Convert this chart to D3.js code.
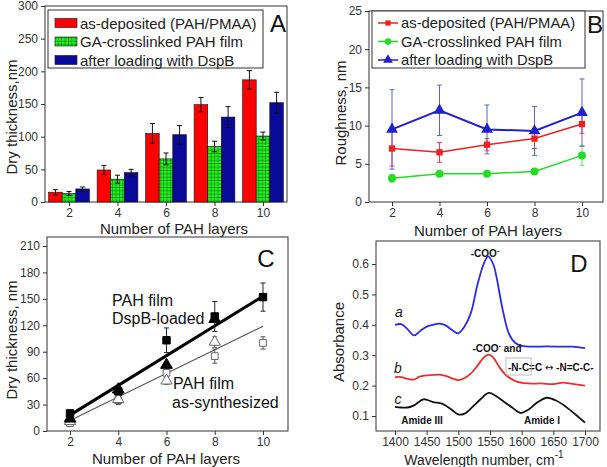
<!DOCTYPE html>
<html><head><meta charset="utf-8">
<script src="https://cdn.jsdelivr.net/npm/d3@7"></script>
<style>
body{margin:0;background:#fff}
svg{display:block;font-family:"Liberation Sans",Arial,sans-serif}
.tick text{font-size:12px;fill:#333}
.tick line{stroke:#333}
.ttl{font-size:15px;fill:#222}
</style></head><body>
<svg width="607" height="467"></svg>
<script>
var layers = [2,4,6,8,10];

// A: dry thickness (nm)
var thickDeposited = [15,49,105,149,187],  thickDepositedErr = [4,7,15,11,14];
var thickCrosslinked = [13,35,66,85,101],  thickCrosslinkedErr = [3,6,9,8,6];
var thickLoaded = [20,45,103,130,152],     thickLoadedErr = [3,5,14,16,16];
var seriesNames = ['as-deposited (PAH/PMAA)','GA-crosslinked PAH film','after loading with DspB'];

// B: roughness (nm)
var roughDeposited = [7.0,6.5,7.5,8.3,10.2],  roughDepositedErr = [2.3,1.3,0.8,1.3,1.2];
var roughCrosslinked = [3.1,3.7,3.7,4.0,6.1], roughCrosslinkedErr = [0.5,0.3,0.3,0.3,1.3];
var roughLoaded = [9.5,12.0,9.5,9.3,11.7],    roughLoadedErr = [5.2,3.3,3.2,3.2,4.4];

// C: thickness vs layers with fits
var loadedSq = [20,45,103,130,152],  loadedSqErr = [3,3,14,17,16];
var loadedTri = [14,47,75,127];
var synthSq = [9,35,66,85,100],      synthSqErr = [3,5,9,8,7];
var synthTri = [11,36,57,101],       synthTriErr = [2,4,4,6];
var fitLoaded = [18,153], fitSynth = [12,119];

// D: FTIR spectra
var waveA = [1400,1410,1420,1430,1440,1450,1460,1470,1480,1490,1500,1510,1520,1530,1540,1547,1555,1560,1570,1580,1590,1600,1620,1640,1660,1680,1700];
var absA  = [0.400,0.402,0.385,0.365,0.380,0.394,0.400,0.404,0.398,0.383,0.372,0.395,0.440,0.530,0.600,0.625,0.600,0.560,0.450,0.370,0.340,0.331,0.328,0.329,0.328,0.328,0.323];
var waveB = [1400,1410,1420,1430,1440,1460,1470,1480,1490,1500,1510,1520,1530,1540,1548,1555,1565,1575,1590,1610,1630,1650,1665,1680,1700];
var absB  = [0.228,0.228,0.222,0.220,0.230,0.235,0.236,0.232,0.224,0.218,0.225,0.240,0.265,0.292,0.302,0.293,0.260,0.235,0.215,0.207,0.207,0.205,0.210,0.206,0.200];
var waveC = [1400,1410,1420,1430,1445,1460,1475,1490,1500,1510,1520,1535,1548,1560,1570,1585,1598,1610,1625,1640,1655,1670,1685,1700];
var absC  = [0.130,0.128,0.128,0.135,0.155,0.146,0.140,0.120,0.105,0.108,0.125,0.155,0.176,0.165,0.150,0.128,0.110,0.120,0.145,0.160,0.150,0.130,0.105,0.078];
var waveTicks = [1400,1450,1500,1550,1600,1650,1700];

var svg = d3.select('svg');

function frame(box, x, y, xt, yt, yfmt){
    var g = svg.append('g');
    g.append('g').attr('transform','translate(0,'+box.b+')')
        .call(d3.axisBottom(x).tickValues(xt).tickSize(4).tickSizeOuter(0).tickPadding(2).tickFormat(d3.format('d')))
        .select('.domain').remove();
    g.append('g').attr('transform','translate('+box.l+',0)')
        .call(d3.axisLeft(y).tickValues(yt).tickSize(4).tickSizeOuter(0).tickPadding(3).tickFormat(yfmt || d3.format('d')))
        .select('.domain').remove();
    g.append('rect').attr('x',box.l).attr('y',box.t)
        .attr('width',box.r-box.l).attr('height',box.b-box.t)
        .attr('fill','none').attr('stroke','#333').attr('stroke-width',1);
    return g;
}

function ytitle(txt, cx, cy){
    svg.append('text').attr('class','ttl')
        .attr('transform','translate('+cx+','+cy+') rotate(-90)')
        .attr('text-anchor','middle').attr('dominant-baseline','central').text(txt);
}
function xtitle(txt, cx, cy){
    return svg.append('text').attr('class','ttl').attr('x',cx).attr('y',cy)
        .attr('text-anchor','middle').attr('dominant-baseline','central').text(txt);
}
function letter(txt, cx, cy){
    svg.append('text').attr('x',cx).attr('y',cy).attr('text-anchor','middle')
        .attr('dominant-baseline','central').style('font-size','24px').attr('fill','#111').text(txt);
}

function errBars(g, xs, vals, errs, x, y, color, cap, dx){
    dx = dx || 0;
    xs.forEach(function(d,i){
        if(!errs[i]) return;
        var cx = x(d)+dx, y0 = y(vals[i]-errs[i]), y1 = y(vals[i]+errs[i]);
        g.append('line').attr('x1',cx).attr('x2',cx).attr('y1',y0).attr('y2',y1)
            .attr('stroke',color).attr('stroke-width',1);
        [y0,y1].forEach(function(yy){
            g.append('line').attr('x1',cx-cap).attr('x2',cx+cap).attr('y1',yy).attr('y2',yy)
                .attr('stroke',color).attr('stroke-width',1);
        });
    });
}

// green grid pattern
var defs = svg.append('defs');
var pat = defs.append('pattern').attr('id','grid').attr('patternUnits','userSpaceOnUse')
    .attr('width',3.4).attr('height',3.4);
pat.append('rect').attr('width',3.4).attr('height',3.4).attr('fill','#22ee22');
pat.append('path').attr('d','M0,0H3.4M0,0V3.4').attr('stroke','#0a3a0a').attr('stroke-width',0.7);

// ---------- Panel A ----------
(function(){
    var box = {l:45,t:6,r:287,b:202};
    var x = d3.scaleLinear().domain([2,10]).range([69,263]);
    var y = d3.scaleLinear().domain([0,300]).range([202,6]);
    var g = frame(box, x, y, layers, d3.range(0,301,50));
    var bw = x(2.56)-x(2);
    var sets = [
        {v:thickDeposited, e:thickDepositedErr, fill:'#ff0000'},
        {v:thickCrosslinked, e:thickCrosslinkedErr, fill:'url(#grid)'},
        {v:thickLoaded, e:thickLoadedErr, fill:'#0a0a9a'}
    ];
    sets.forEach(function(s,k){
        var off = (k-1.5)*bw;
        g.selectAll(null).data(layers).enter().append('rect')
            .attr('x',function(d){return x(d)+off;})
            .attr('y',function(d,i){return y(s.v[i]);})
            .attr('width',bw)
            .attr('height',function(d,i){return y(0)-y(s.v[i]);})
            .attr('fill',s.fill).attr('stroke','#111').attr('stroke-width',0.6);
        errBars(g, layers, s.v, s.e, x, y, '#111', 2.5, off+bw/2);
    });
    var lg = svg.append('g');
    lg.append('rect').attr('x',48).attr('y',10).attr('width',215).attr('height',58)
        .attr('fill','#fff').attr('stroke','#333');
    sets.forEach(function(s,k){
        var cy = 23+k*18.5;
        lg.append('rect').attr('x',55).attr('y',cy-4.5).attr('width',22).attr('height',9)
            .attr('fill',s.fill).attr('stroke','#111').attr('stroke-width',0.6);
        lg.append('text').attr('x',80).attr('y',cy).attr('dominant-baseline','central')
            .style('font-size','15px').attr('fill','#222').text(seriesNames[k]);
    });
    letter('A', 278, 23);
    ytitle('Dry thickness,nm', 11, 117);
    xtitle('Number of PAH layers', 174, 228);
})();

// ---------- Panel B ----------
(function(){
    var box = {l:369,t:11,r:603,b:202};
    var x = d3.scaleLinear().domain([2,10]).range([392,582]);
    var y = d3.scaleLinear().domain([0,25]).range([202,11]);
    var g = frame(box, x, y, layers, d3.range(0,26,5));
    var sets = [
        {v:roughDeposited, e:roughDepositedErr, c:'#ee2020', ec:'#ee4040', sym:d3.symbolSquare, s:40, w:1.5},
        {v:roughCrosslinked, e:roughCrosslinkedErr, c:'#22dd22', ec:'#66dd66', sym:d3.symbolCircle, s:50, w:1.5},
        {v:roughLoaded, e:roughLoadedErr, c:'#2020cc', ec:'#6060d0', sym:d3.symbolTriangle, s:60, w:2}
    ];
    sets.forEach(function(s){
        errBars(g, layers, s.v, s.e, x, y, s.ec, 2.5);
    });
    sets.forEach(function(s){
        g.append('path').datum(layers)
            .attr('d', d3.line().x(function(d){return x(d);}).y(function(d,i){return y(s.v[i]);}))
            .attr('fill','none').attr('stroke',s.c).attr('stroke-width',s.w);
        g.selectAll(null).data(layers).enter().append('path')
            .attr('transform',function(d,i){return 'translate('+x(d)+','+y(s.v[i])+')';})
            .attr('d', d3.symbol(s.sym).size(s.s)).attr('fill',s.c);
    });
    var lg = svg.append('g');
    lg.append('rect').attr('x',372).attr('y',11).attr('width',213).attr('height',57)
        .attr('fill','#fff').attr('stroke','#333');
    sets.forEach(function(s,k){
        var cy = 23+k*18.5;
        lg.append('line').attr('x1',378).attr('x2',398).attr('y1',cy).attr('y2',cy)
            .attr('stroke',s.c).attr('stroke-width',1.5);
        lg.append('path').attr('transform','translate(388,'+cy+')')
            .attr('d', d3.symbol(s.sym).size(s.s*0.7)).attr('fill',s.c);
        lg.append('text').attr('x',401).attr('y',cy).attr('dominant-baseline','central')
            .style('font-size','14.8px').attr('fill','#222').text(seriesNames[k]);
    });
    letter('B', 595, 24);
    ytitle('Roughness, nm', 340, 113);
    xtitle('Number of PAH layers', 488, 230);
})();

// ---------- Panel C ----------
(function(){
    var box = {l:47,t:237,r:288,b:431};
    var x = d3.scaleLinear().domain([2,10]).range([70,263]);
    var y = d3.scaleLinear().domain([0,210]).range([431,246]);
    var g = frame(box, x, y, layers, d3.range(0,211,30));
    var ends = [2,10];
    g.append('path').datum(ends)
        .attr('d', d3.line().x(function(d){return x(d);}).y(function(d,i){return y(fitSynth[i]);}))
        .attr('stroke','#555').attr('stroke-width',1.2);
    g.append('path').datum(ends)
        .attr('d', d3.line().x(function(d){return x(d);}).y(function(d,i){return y(fitLoaded[i]);}))
        .attr('stroke','#000').attr('stroke-width',3);
    errBars(g, layers, synthSq, synthSqErr, x, y, '#555', 2.5);
    errBars(g, layers.slice(0,4), synthTri, synthTriErr, x, y, '#555', 2.5);
    errBars(g, layers, loadedSq, loadedSqErr, x, y, '#222', 2.5);
    function marks(vals, sym, size, filled){
        g.selectAll(null).data(vals).enter().append('path')
            .attr('transform',function(d,i){return 'translate('+x(layers[i])+','+y(d)+')';})
            .attr('d', d3.symbol(sym).size(size))
            .attr('fill', filled ? '#000' : '#fff')
            .attr('stroke', filled ? '#000' : '#666').attr('stroke-width',1);
    }
    marks(synthSq, d3.symbolSquare, 45, false);
    marks(synthTri, d3.symbolTriangle, 55, false);
    marks(loadedTri, d3.symbolTriangle, 60, true);
    marks(loadedSq, d3.symbolSquare, 55, true);
    letter('C', 266, 258);
    [['PAH film',112,300],['DspB-loaded',112,318],['PAH film',173,383],['as-synthesized',172,402]].forEach(function(t){
        svg.append('text').attr('x',t[1]).attr('y',t[2]).attr('dominant-baseline','central')
            .style('font-size','16px').attr('fill','#111').text(t[0]);
    });
    ytitle('Dry thickness, nm', 11, 340);
    xtitle('Number of PAH layers', 166, 458);
})();

// ---------- Panel D ----------
(function(){
    var box = {l:376,t:241,r:600,b:431};
    var x = d3.scaleLinear().domain([1400,1700]).range([395,585]);
    var y = d3.scaleLinear().domain([0.1,0.6]).range([416,264]);
    var g = frame(box, x, y, waveTicks, [0.1,0.2,0.3,0.4,0.5,0.6], d3.format('.1f'));
    var curves = [[waveA,absA,'#2a2ae0'],[waveB,absB,'#e83030'],[waveC,absC,'#111']];
    curves.forEach(function(c){
        g.append('path').datum(c[0])
            .attr('d', d3.line().curve(d3.curveCatmullRom)
                .x(function(d){return x(d);}).y(function(d,i){return y(c[1][i]);}))
            .attr('fill','none').attr('stroke',c[2]).attr('stroke-width',1.8);
    });
    function bold(cx, cy, anchor){
        return svg.append('text').attr('x',cx).attr('y',cy).attr('text-anchor',anchor)
            .attr('dominant-baseline','central').style('font-size','10px')
            .style('font-weight','bold').attr('fill','#111');
    }
    var t1 = bold(485, 253, 'middle');
    t1.append('tspan').text('-COO');
    t1.append('tspan').attr('dy',-3).style('font-size','7px').text('-');
    var t2 = bold(497, 348, 'middle');
    t2.append('tspan').text('-COO');
    t2.append('tspan').attr('dy',-3).style('font-size','7px').text('-');
    t2.append('tspan').attr('dy',3).text(' and');
    var t3 = bold(508, 367, 'start');
    t3.append('tspan').text('-N-C=C ');
    t3.append('tspan').style('font-family','"DejaVu Sans"').style('font-weight','normal').text('\u2194');
    t3.append('tspan').text(' -N=C-C-');
    var w = t3.node().getSubStringLength(0,4);
    svg.append('rect').attr('x',506).attr('y',358).attr('width',w+4).attr('height',17)
        .attr('fill','none').attr('stroke','#aaa').attr('stroke-width',0.8);
    bold(422, 420, 'middle').text('Amide III');
    bold(542, 420, 'middle').text('Amide I');
    [['a',399,312],['b',398,368],['c',398,399]].forEach(function(t){
        svg.append('text').attr('x',t[1]).attr('y',t[2]).attr('text-anchor','middle')
            .attr('dominant-baseline','central').style('font-size','14px')
            .style('font-style','italic').attr('fill','#222').text(t[0]);
    });
    letter('D', 579, 263);
    ytitle('Absorbance', 338, 342);
    var xt = xtitle('Wavelength number, cm', 484, 460).style('font-size','14px');
    xt.append('tspan').attr('dy',-6).style('font-size','10px').text('-1');
})();
</script>
</body></html>
